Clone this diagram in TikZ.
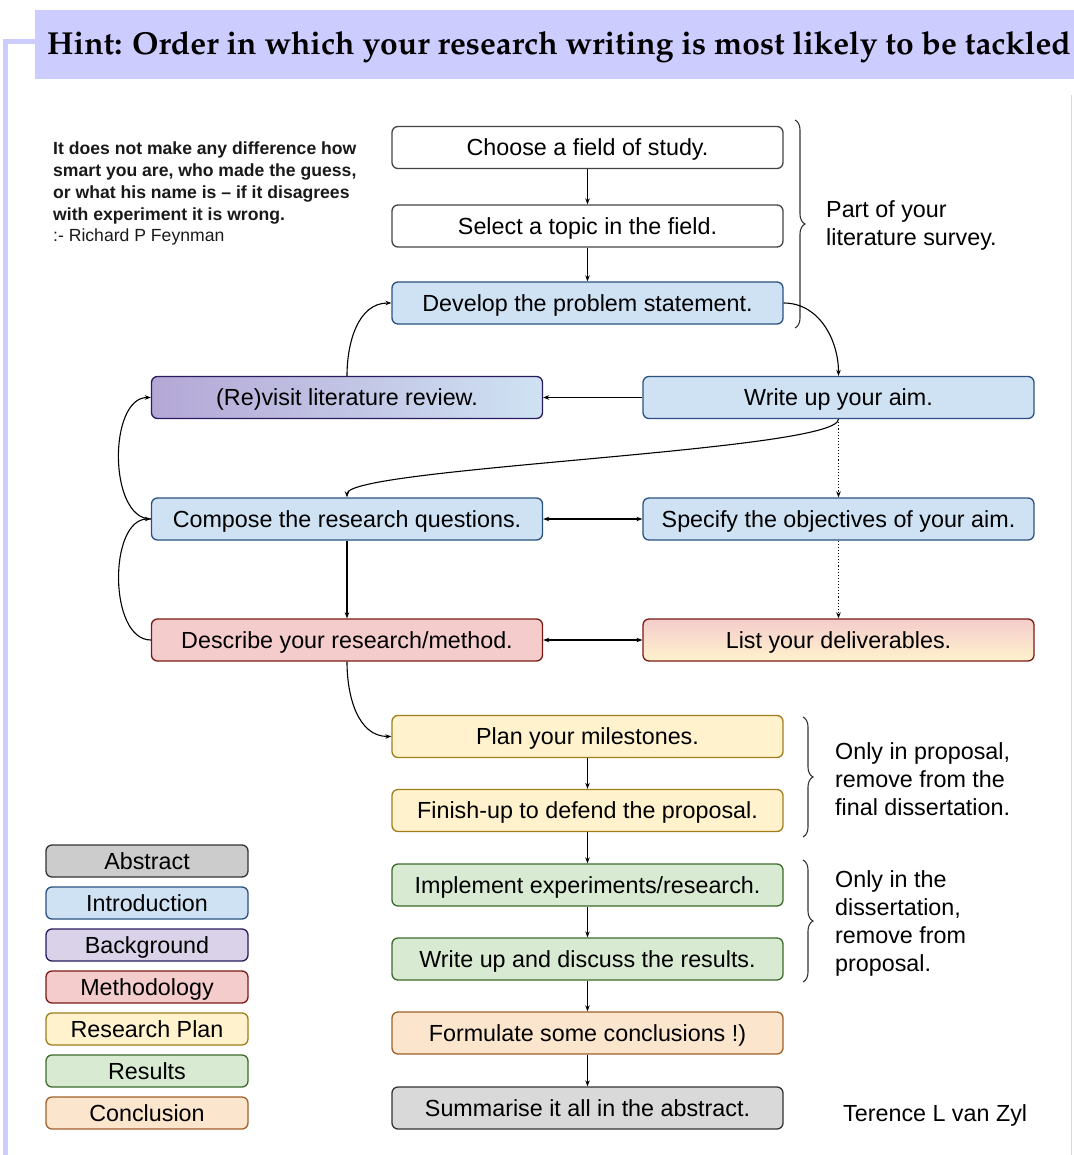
\documentclass[tikz,border=0pt]{standalone}
\usepackage[T1]{fontenc}
\usepackage{fontspec}
\setmainfont{Liberation Sans}
\usetikzlibrary{arrows.meta,decorations.pathreplacing}
\newcommand\titlefnt{\fontencoding{T1}\fontfamily{ppl}\fontseries{b}\fontsize{31.8}{36}\selectfont}
\newcommand\nodefnt{\fontsize{23.3}{28}\selectfont}
\newcommand\quotefnt{\fontsize{17.6}{21.7}\selectfont}
\definecolor{bandc}{HTML}{CCCCFF}
\definecolor{introf}{HTML}{CFE2F3}
\definecolor{introd}{HTML}{2A5181}
\definecolor{backf}{HTML}{D9D2E9}
\definecolor{backd}{HTML}{2A1A5E}
\definecolor{backg}{HTML}{B4A7D6}
\definecolor{methf}{HTML}{F4CCCC}
\definecolor{methd}{HTML}{7A1A14}
\definecolor{planf}{HTML}{FFF2CC}
\definecolor{pland}{HTML}{A07D1A}
\definecolor{resf}{HTML}{D9EAD3}
\definecolor{resd}{HTML}{3C6B2A}
\definecolor{conf}{HTML}{FCE5CD}
\definecolor{cond}{HTML}{A0602A}
\definecolor{absf}{HTML}{D9D9D9}
\definecolor{absl}{HTML}{CCCCCC}
\definecolor{absd}{HTML}{333333}
\definecolor{plaind}{HTML}{444444}
\tikzset{
  box/.style={draw, rounded corners=6pt, line width=1.3pt, minimum width=391pt, minimum height=42pt, inner sep=0pt, text height=20pt, text depth=3.2pt, font=\nodefnt},
  legbox/.style={draw, rounded corners=6pt, line width=1.3pt, minimum width=202pt, minimum height=32pt, inner sep=0pt, text height=20pt, text depth=3.2pt, font=\nodefnt},
  plain/.style={fill=white, draw=plaind},
  intro/.style={fill=introf, draw=introd},
  back/.style={fill=backf, draw=backd},
  meth/.style={fill=methf, draw=methd},
  plan/.style={fill=planf, draw=pland},
  res/.style={fill=resf, draw=resd},
  concl/.style={fill=conf, draw=cond},
  abst/.style={fill=absf, draw=absd},
  arr/.style={line width=1.1pt, -{Stealth[length=6pt,width=4.5pt]}},
  darr/.style={line width=1.1pt, {Stealth[length=6pt,width=4.5pt]}-{Stealth[length=6pt,width=4.5pt]}},
  dotarr/.style={line width=1.1pt, dotted, -{Stealth[length=6pt,width=4.5pt]}},
  bracestyle/.style={draw=black!80, line width=1.1pt, decorate, decoration={brace, amplitude=10pt}},
  note/.style={font=\nodefnt, align=left, anchor=west, inner sep=0pt}
}
\begin{document}
\begin{tikzpicture}[x=1pt,y=1pt]
\useasboundingbox (0,0) rectangle (1073,-1155);
% frame
\draw[bandc, line width=5pt] (35,-42) -- (5.5,-42) -- (5.5,-1160);
\draw[black!15, line width=1pt] (1071,-95) -- (1071,-1160);
\fill[bandc] (35,-10) rectangle (1080,-79);
\node[anchor=base west, inner sep=0pt] (title) at (47,-55) {\titlefnt Hint: Order in which your research writing is most likely to be tackled};
% quote
\node[anchor=north west, inner sep=0pt, align=left, text=black!90, font=\quotefnt] (quote) at (53,-142)
  {\bfseries It does not make any difference how\\ \bfseries smart you are, who made the guess,\\ \bfseries or what his name is -- if it disagrees\\ \bfseries with experiment it is wrong.\\ :- Richard P Feynman};
% main nodes
\node[box, plain] (n1) at (587.5,-147.5) {Choose a field of study.};
\node[box, plain] (n2) at (587.5,-226) {Select a topic in the field.};
\node[box, intro] (n3) at (587.5,-303) {Develop the problem statement.};
\node[box, draw=backd, left color=backg, right color=introf] (n4) at (347,-397.5) {(Re)visit literature review.};
\node[box, intro] (n5) at (838.5,-397.5) {Write up your aim.};
\node[box, intro] (n6) at (347,-519) {Compose the research questions.};
\node[box, intro] (n7) at (838.5,-519) {Specify the objectives of your aim.};
\node[box, meth] (n8) at (347,-640) {Describe your research/method.};
\node[box, draw=methd, top color=methf, bottom color=planf] (n9) at (838.5,-640) {List your deliverables.};
\node[box, plan] (n10) at (587.5,-736.5) {Plan your milestones.};
\node[box, plan] (n11) at (587.5,-810.5) {Finish-up to defend the proposal.};
\node[box, res] (n12) at (587.5,-885) {Implement experiments/research.};
\node[box, res] (n13) at (587.5,-959) {Write up and discuss the results.};
\node[box, concl] (n14) at (587.5,-1033) {Formulate some conclusions !)};
\node[box, abst] (n15) at (587.5,-1108) {Summarise it all in the abstract.};
% legend
\node[legbox, fill=absl, draw=absd] (l1) at (147,-861) {Abstract};
\node[legbox, intro] (l2) at (147,-903) {Introduction};
\node[legbox, back] (l3) at (147,-945) {Background};
\node[legbox, meth] (l4) at (147,-987) {Methodology};
\node[legbox, plan] (l5) at (147,-1029) {Research Plan};
\node[legbox, res] (l6) at (147,-1071) {Results};
\node[legbox, concl] (l7) at (147,-1113) {Conclusion};
% braces
\coordinate (b1a) at (795,-120);
\coordinate (b1b) at (795,-328);
\coordinate (b2a) at (803,-717);
\coordinate (b2b) at (803,-837);
\coordinate (b3a) at (803,-860);
\coordinate (b3b) at (803,-982);
\draw[bracestyle] (b1a) -- (b1b);
\draw[bracestyle] (b2a) -- (b2b);
\draw[bracestyle] (b3a) -- (b3b);
\node[note] (t1) at (826,-226) {\begin{tabular}{@{}l@{}}Part of your\\[-0.3pt]literature survey.\end{tabular}};
\node[note] (t2) at (835,-782) {\begin{tabular}{@{}l@{}}Only in proposal,\\remove from the\\final dissertation.\end{tabular}};
\node[note] (t3) at (835,-924) {\begin{tabular}{@{}l@{}}Only in the\\dissertation,\\remove from\\proposal.\end{tabular}};
\node[note] (sig) at (843,-1115) {Terence L van Zyl};
% connectors
\draw[arr] (n1) -- (n2);
\draw[arr] (n2) -- (n3);
\draw[arr] (n3.east) to[out=0,in=90] (n5.north);
\draw[arr] (n5.west) -- (n4.east);
\draw[arr] (n4.north) to[out=90,in=180] (n3.west);
\draw[arr] (n5.south) .. controls +(0,-32) and +(0,30) .. (n6.north);
\draw[dotarr] (n5.south) -- (n7.north);
\draw[dotarr] (n7.south) -- (n9.north);
\draw[darr] (n6.east) -- (n7.west);
\draw[darr] (n8.east) -- (n9.west);
\draw[arr] (n6.south) -- (n8.north);
\draw[arr] (n6.west) to[out=180,in=180,looseness=0.9] (n4.west);
\draw[arr] (n8.west) to[out=180,in=180,looseness=0.9] (n6.west);
\draw[arr] (n8.south) to[out=-90,in=180] (n10.west);
\draw[arr] (n10) -- (n11);
\draw[arr] (n11) -- (n12);
\draw[arr] (n12) -- (n13);
\draw[arr] (n13) -- (n14);
\draw[arr] (n14) -- (n15);
\end{tikzpicture}
\end{document}
